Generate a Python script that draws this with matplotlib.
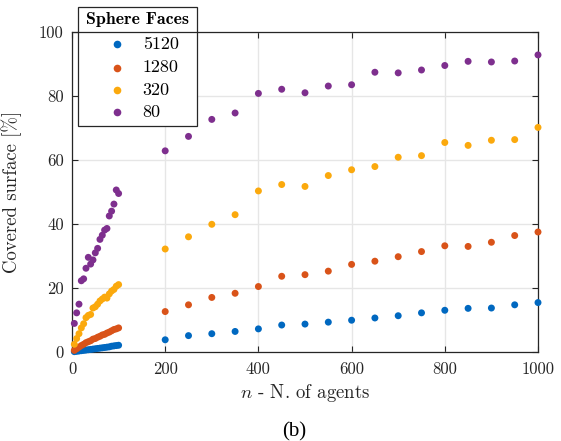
import matplotlib
matplotlib.use("Agg")
import matplotlib.pyplot as plt
from matplotlib.patches import Rectangle
from matplotlib.lines import Line2D
import numpy as np

plt.rcParams['font.family'] = ['cmr10', 'DejaVu Serif']
plt.rcParams['mathtext.fontset'] = 'cm'
plt.rcParams['axes.formatter.use_mathtext'] = True

# ---- data ----
n_small = list(range(5, 101, 5))
n_large = list(range(200, 1001, 50))

labels = ['5120', '1280', '320', '80']
colors = ['#0068C0', '#D95319', '#FBA90D', '#7E2F8E']

faces5120_small = [0.2, 0.3, 0.4, 0.5, 0.6, 0.7, 0.8, 0.9, 1.0, 1.1,
                   1.2, 1.3, 1.4, 1.5, 1.6, 1.7, 1.9, 2.0, 2.1, 2.2]
faces1280_small = [0.6, 1.1, 1.6, 2.1, 2.5, 3.0, 3.3, 3.6, 4.1, 4.3,
                   4.7, 5.0, 5.4, 5.6, 6.0, 6.3, 6.7, 7.1, 7.3, 7.6]
faces320_small = [2.5, 4.3, 5.8, 7.6, 8.9, 10.8, 11.5, 11.8, 13.8, 14.2,
                  15.0, 16.0, 16.6, 17.2, 16.9, 18.2, 19.1, 19.6, 20.6, 21.1]
faces80_small = [9.0, 12.3, 15.0, 22.3, 22.9, 26.2, 29.6, 27.5, 28.8, 31.0,
                 32.4, 35.2, 36.5, 38.1, 38.6, 42.5, 44.0, 46.2, 50.6, 49.5]

faces5120_large = [3.9, 5.2, 5.8, 6.5, 7.3, 8.5, 8.8, 9.4, 10.0, 10.7,
                   11.4, 12.3, 13.1, 13.7, 13.8, 14.8, 15.5]
faces1280_large = [12.7, 14.8, 17.1, 18.4, 20.5, 23.7, 24.2, 25.3, 27.4, 28.4,
                   29.8, 31.4, 33.2, 33.0, 34.3, 36.4, 37.5]
faces320_large = [32.2, 36.0, 39.9, 42.9, 50.3, 52.3, 51.7, 55.1, 56.9, 57.9,
                  60.8, 61.3, 65.4, 64.5, 66.1, 66.3, 70.1]
faces80_large = [62.8, 67.3, 72.6, 74.6, 80.7, 82.0, 80.9, 83.0, 83.4, 87.3,
                 87.1, 88.0, 89.4, 90.7, 90.5, 90.8, 92.7]

x_ticks = [0, 200, 400, 600, 800, 1000]
y_ticks = [0, 20, 40, 60, 80, 100]

series = [
    (faces5120_small, faces5120_large),
    (faces1280_small, faces1280_large),
    (faces320_small, faces320_large),
    (faces80_small, faces80_large),
]

W, H = 561, 441
fig = plt.figure(figsize=(W / 100, H / 100), dpi=100)
ax = fig.add_axes([72 / W, 1 - 352.3 / H, (538 - 72) / W, (352.3 - 31.5) / H])

for (ys, yl), c in zip(series, colors):
    ax.scatter(n_small + n_large, ys + yl, s=25, color=c, edgecolors='none',
               clip_on=False, zorder=3)

ax.set_xlim(0, 1000)
ax.set_ylim(0, 100)
ax.set_xticks(x_ticks)
ax.set_yticks(y_ticks)
ax.set_xticklabels([str(t) for t in x_ticks])
ax.set_yticklabels([str(t) for t in y_ticks])
ax.tick_params(direction='in', length=4, width=0.8, top=True, right=True,
               labelsize=12, colors='#262626', pad=6)
ax.tick_params(axis='x', pad=7)
ax.grid(True, color='#E6E6E6', linewidth=1.0, zorder=0)
ax.set_axisbelow(True)
for sp in ax.spines.values():
    sp.set_color('#262626')
    sp.set_linewidth(0.9)

ax.set_xlabel('$n$ - N. of agents', fontsize=13.5, color='#262626', labelpad=3)
ax.set_ylabel('Covered surface [%]', fontsize=13.5, color='#262626', labelpad=12)

fig.text(294 / W, 1 - 432 / H, '(b)', ha='center', va='center',
         fontsize=15, family='Liberation Serif')

# ---- legend (MATLAB style with title separator) ----
def fx(px):
    return px / W

def fy(py):
    return 1 - py / H

x0, x1, y0, y1 = 78.3, 196.7, 7.0, 126.0
fig.add_artist(Rectangle((fx(x0), fy(y1)), fx(x1) - fx(x0), fy(y0) - fy(y1),
                         transform=fig.transFigure, facecolor='white',
                         edgecolor='#262626', linewidth=0.9, zorder=5))
fig.add_artist(Line2D([fx(x0), fx(x1)], [fy(32.3), fy(32.3)],
                      transform=fig.transFigure, color='#262626',
                      linewidth=0.9, zorder=6))
fig.text(fx((x0 + x1) / 2), fy(19.5), 'Sphere Faces', ha='center',
         va='center', fontsize=12.8, family=['cmb10', 'DejaVu Serif'],
         color='black', zorder=7)
rows = [44.3, 67.7, 90.0, 112.3]
for lab, c, ry in zip(labels, colors, rows):
    fig.add_artist(Line2D([fx(117)], [fy(ry)], transform=fig.transFigure,
                          marker='o', markersize=5.5, color=c,
                          markeredgewidth=0, linestyle='none', zorder=7))
    fig.text(fx(142.7), fy(ry), lab, ha='left', va='center', fontsize=13,
             color='black', zorder=7)

fig.savefig('out.png', dpi=100)
